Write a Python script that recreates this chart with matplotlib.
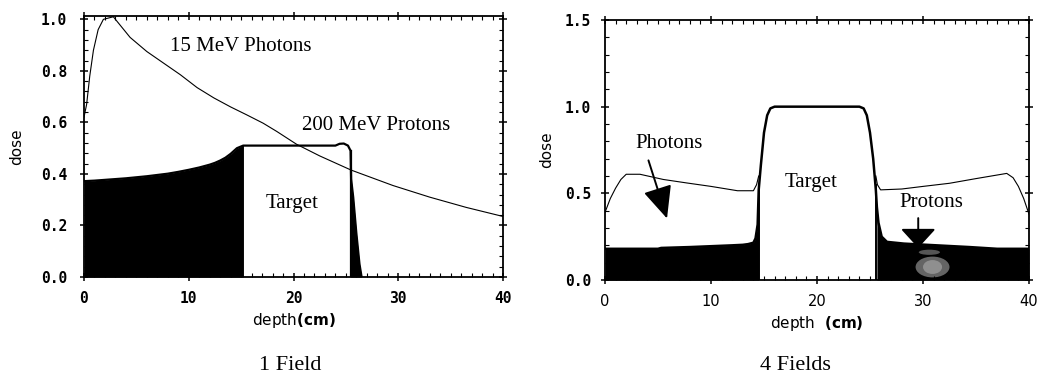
import numpy as np
import matplotlib
matplotlib.use("Agg")
import matplotlib.pyplot as plt
from matplotlib.patches import Ellipse
from matplotlib.ticker import MultipleLocator

# ---------------- data: 1 field ----------------
photon1_x = [0, 0.25, 0.55, 0.9, 1.35, 1.85, 2.8, 4.4, 6.0, 7.6, 9.2, 10.8, 12.4,
             14.0, 15.5, 17.1, 18.4, 20.3, 22.5, 25.5, 29.5, 33.0, 36.5, 40]
photon1_y = [0.62, 0.67, 0.78, 0.88, 0.96, 1.0, 1.01, 0.93, 0.875, 0.83, 0.785, 0.735,
             0.695, 0.66, 0.63, 0.597, 0.565, 0.515, 0.47, 0.415, 0.355, 0.31, 0.27, 0.235]

proton1_x = [0, 1, 2, 3, 4, 5, 6, 7, 8, 9, 10, 11, 12, 12.5, 13, 13.5, 14, 14.6,
             15.2, 16, 18, 20, 22, 24, 24.4, 24.8, 25.2, 25.45, 25.5, 25.7, 26.0, 26.3, 26.5]
proton1_y = [0.372, 0.374, 0.377, 0.380, 0.383, 0.387, 0.391, 0.396, 0.401, 0.408,
             0.416, 0.425, 0.436, 0.443, 0.452, 0.463, 0.478, 0.50,
             0.51, 0.51, 0.51, 0.51, 0.51, 0.51, 0.517, 0.518, 0.51, 0.49, 0.38,
             0.31, 0.17, 0.05, 0.0]
target1 = (15.2, 25.45)

# ---------------- data: 4 fields ----------------
proton4_x = [0, 2, 5, 5.3, 8, 10, 12, 13, 13.5, 14, 14.2, 14.4, 14.5, 14.7, 15, 15.3,
             15.6, 16, 20, 24, 24.4, 24.7, 25, 25.3, 25.55, 25.65, 25.8, 26.1, 26.6,
             28.2, 31.3, 34.4, 37, 40]
proton4_y = [0.18, 0.18, 0.18, 0.185, 0.19, 0.195, 0.2, 0.203, 0.207, 0.215, 0.24,
             0.32, 0.52, 0.66, 0.85, 0.95, 0.99, 1.0, 1.0, 1.0, 0.99, 0.95, 0.85, 0.7,
             0.52, 0.42, 0.33, 0.25, 0.22, 0.21, 0.2, 0.19, 0.18, 0.18]
target4 = (14.5, 25.57)

photon4_left_x = [0, 0.5, 1, 1.5, 2, 3.3, 5.5, 7.7, 10, 11.5, 12.5, 14, 14.3, 14.5]
photon4_left_y = [0.39, 0.47, 0.53, 0.58, 0.61, 0.61, 0.58, 0.56, 0.54, 0.525, 0.515,
                  0.515, 0.55, 0.6]
photon4_right_x = [25.55, 25.7, 26, 28, 30, 32.5, 35, 37.9, 38.5, 39, 39.5, 40]
photon4_right_y = [0.6, 0.55, 0.52, 0.525, 0.54, 0.558, 0.585, 0.615, 0.59, 0.54, 0.47, 0.38]

xticks = [0, 10, 20, 30, 40]
yticks1 = [0.0, 0.2, 0.4, 0.6, 0.8, 1.0]
yticks4 = [0.0, 0.5, 1.0, 1.5]

W, H = 1043, 377
fig = plt.figure(figsize=(W / 100, H / 100), dpi=100)

tickfont = dict(family="DejaVu Sans Mono", weight="bold", size=10.5)
serif = ["Liberation Serif", "DejaVu Serif"]


def style_axes(ax, yticks, ymin_loc, ypad, ylabelpad):
    ax.set_xlim(0, 40)
    ax.set_xticks(xticks)
    ax.set_yticks(yticks)
    ax.xaxis.set_minor_locator(MultipleLocator(1))
    ax.yaxis.set_minor_locator(MultipleLocator(ymin_loc))
    ax.tick_params(which="major", direction="inout", length=6, width=1.1,
                   top=True, right=True)
    ax.tick_params(which="minor", direction="in", length=3, width=0.8,
                   top=True, right=True)
    ax.tick_params(axis="y", pad=ypad)
    ax.tick_params(axis="x", pad=7)
    for s in ax.spines.values():
        s.set_linewidth(1.3)
    ax.set_ylabel("dose", fontsize=11, family="DejaVu Sans", labelpad=ylabelpad)


# ---------------- left panel ----------------
ax1 = fig.add_axes([84 / W, 1 - 277 / H, 419 / W, 261 / H])
px = np.array(proton1_x)
py = np.array(proton1_y)
ax1.fill_between(px, 0, py, where=(px <= target1[0]), color="black", lw=0)
ax1.fill_between(px, 0, py, where=(px >= target1[1]), color="black", lw=0)
ax1.plot(px, py, color="black", lw=1.6)
ax1.plot([target1[0], target1[0]], [0, 0.51], color="black", lw=1.2)
ax1.plot([target1[1], target1[1]], [0, 0.49], color="black", lw=1.6)
ax1.plot(photon1_x, photon1_y, color="black", lw=0.8)
ax1.set_ylim(0, 1.013)
style_axes(ax1, yticks1, 0.04, 9, 12)
ax1.set_xticklabels([str(t) for t in xticks], **tickfont)
ax1.set_yticklabels([f"{t:.1f}" for t in yticks1], **tickfont)
ax1.text(15.0, 0.893, "15 MeV Photons", family=serif, fontsize=15,
         ha="center", va="center")
ax1.text(20.8, 0.587, "200 MeV Protons", family=serif, fontsize=15,
         ha="left", va="center")
ax1.text(19.9, 0.287, "Target", family=serif, fontsize=15, ha="center", va="center")
ax1.set_xlabel(r"depth$\mathbf{(cm)}$", fontsize=11, family="DejaVu Sans", labelpad=4)

# ---------------- right panel ----------------
ax2 = fig.add_axes([605 / W, 1 - 280 / H, 424 / W, 260 / H])
qx = np.array(proton4_x)
qy = np.array(proton4_y)
ax2.fill_between(qx, 0, qy, where=(qx <= target4[0]), color="black", lw=0)
ax2.fill_between(qx, 0, qy, where=(qx >= target4[1]), color="black", lw=0)
ax2.add_patch(Ellipse((30.9, 0.075), 3.2, 0.12, color="#777777", lw=0, alpha=0.85))
ax2.add_patch(Ellipse((30.9, 0.075), 1.8, 0.08, color="#9a9a9a", lw=0, alpha=0.8))
ax2.add_patch(Ellipse((30.6, 0.16), 2.0, 0.03, color="#555555", lw=0))
ax2.plot(qx, qy, color="black", lw=1.8)
ax2.plot([target4[0], target4[0]], [0, 0.55], color="black", lw=1.4)
ax2.plot([target4[1], target4[1]], [0, 0.55], color="black", lw=1.4)
ax2.plot(photon4_left_x, photon4_left_y, color="black", lw=0.8)
ax2.plot(photon4_right_x, photon4_right_y, color="black", lw=0.8)
ax2.set_ylim(0, 1.5)
style_axes(ax2, yticks4, 0.1, 7, 8)
ax2.set_xticklabels([str(t) for t in xticks], family="DejaVu Sans", size=10.5)
ax2.set_yticklabels([f"{t:.1f}" for t in yticks4], **tickfont)
ax2.text(19.4, 0.56, "Target", family=serif, fontsize=15, ha="center", va="center")
ax2.text(6.0, 0.785, "Photons", family=serif, fontsize=15, ha="center", va="center")
ax2.text(30.8, 0.445, "Protons", family=serif, fontsize=15, ha="center", va="center")
ax2.annotate("", xy=(5.85, 0.355), xytext=(4.1, 0.69),
             arrowprops=dict(arrowstyle="-|>,head_length=1.0,head_width=0.45",
                             mutation_scale=20, lw=1.4, color="black",
                             shrinkA=0, shrinkB=0))
ax2.annotate("", xy=(29.55, 0.185), xytext=(29.55, 0.357),
             arrowprops=dict(arrowstyle="-|>,head_length=0.6,head_width=0.55",
                             mutation_scale=20, lw=1.4, color="black",
                             shrinkA=0, shrinkB=0))
ax2.set_xlabel(r"depth  $\mathbf{(cm)}$", fontsize=11, family="DejaVu Sans", labelpad=4)

# ---------------- captions ----------------
fig.text(290 / W, 1 - 366 / H, "1 Field", family=serif, fontsize=16,
         ha="center", va="center")
fig.text(795 / W, 1 - 366 / H, "4 Fields", family=serif, fontsize=16,
         ha="center", va="center")

fig.savefig("out.png", dpi=100)
